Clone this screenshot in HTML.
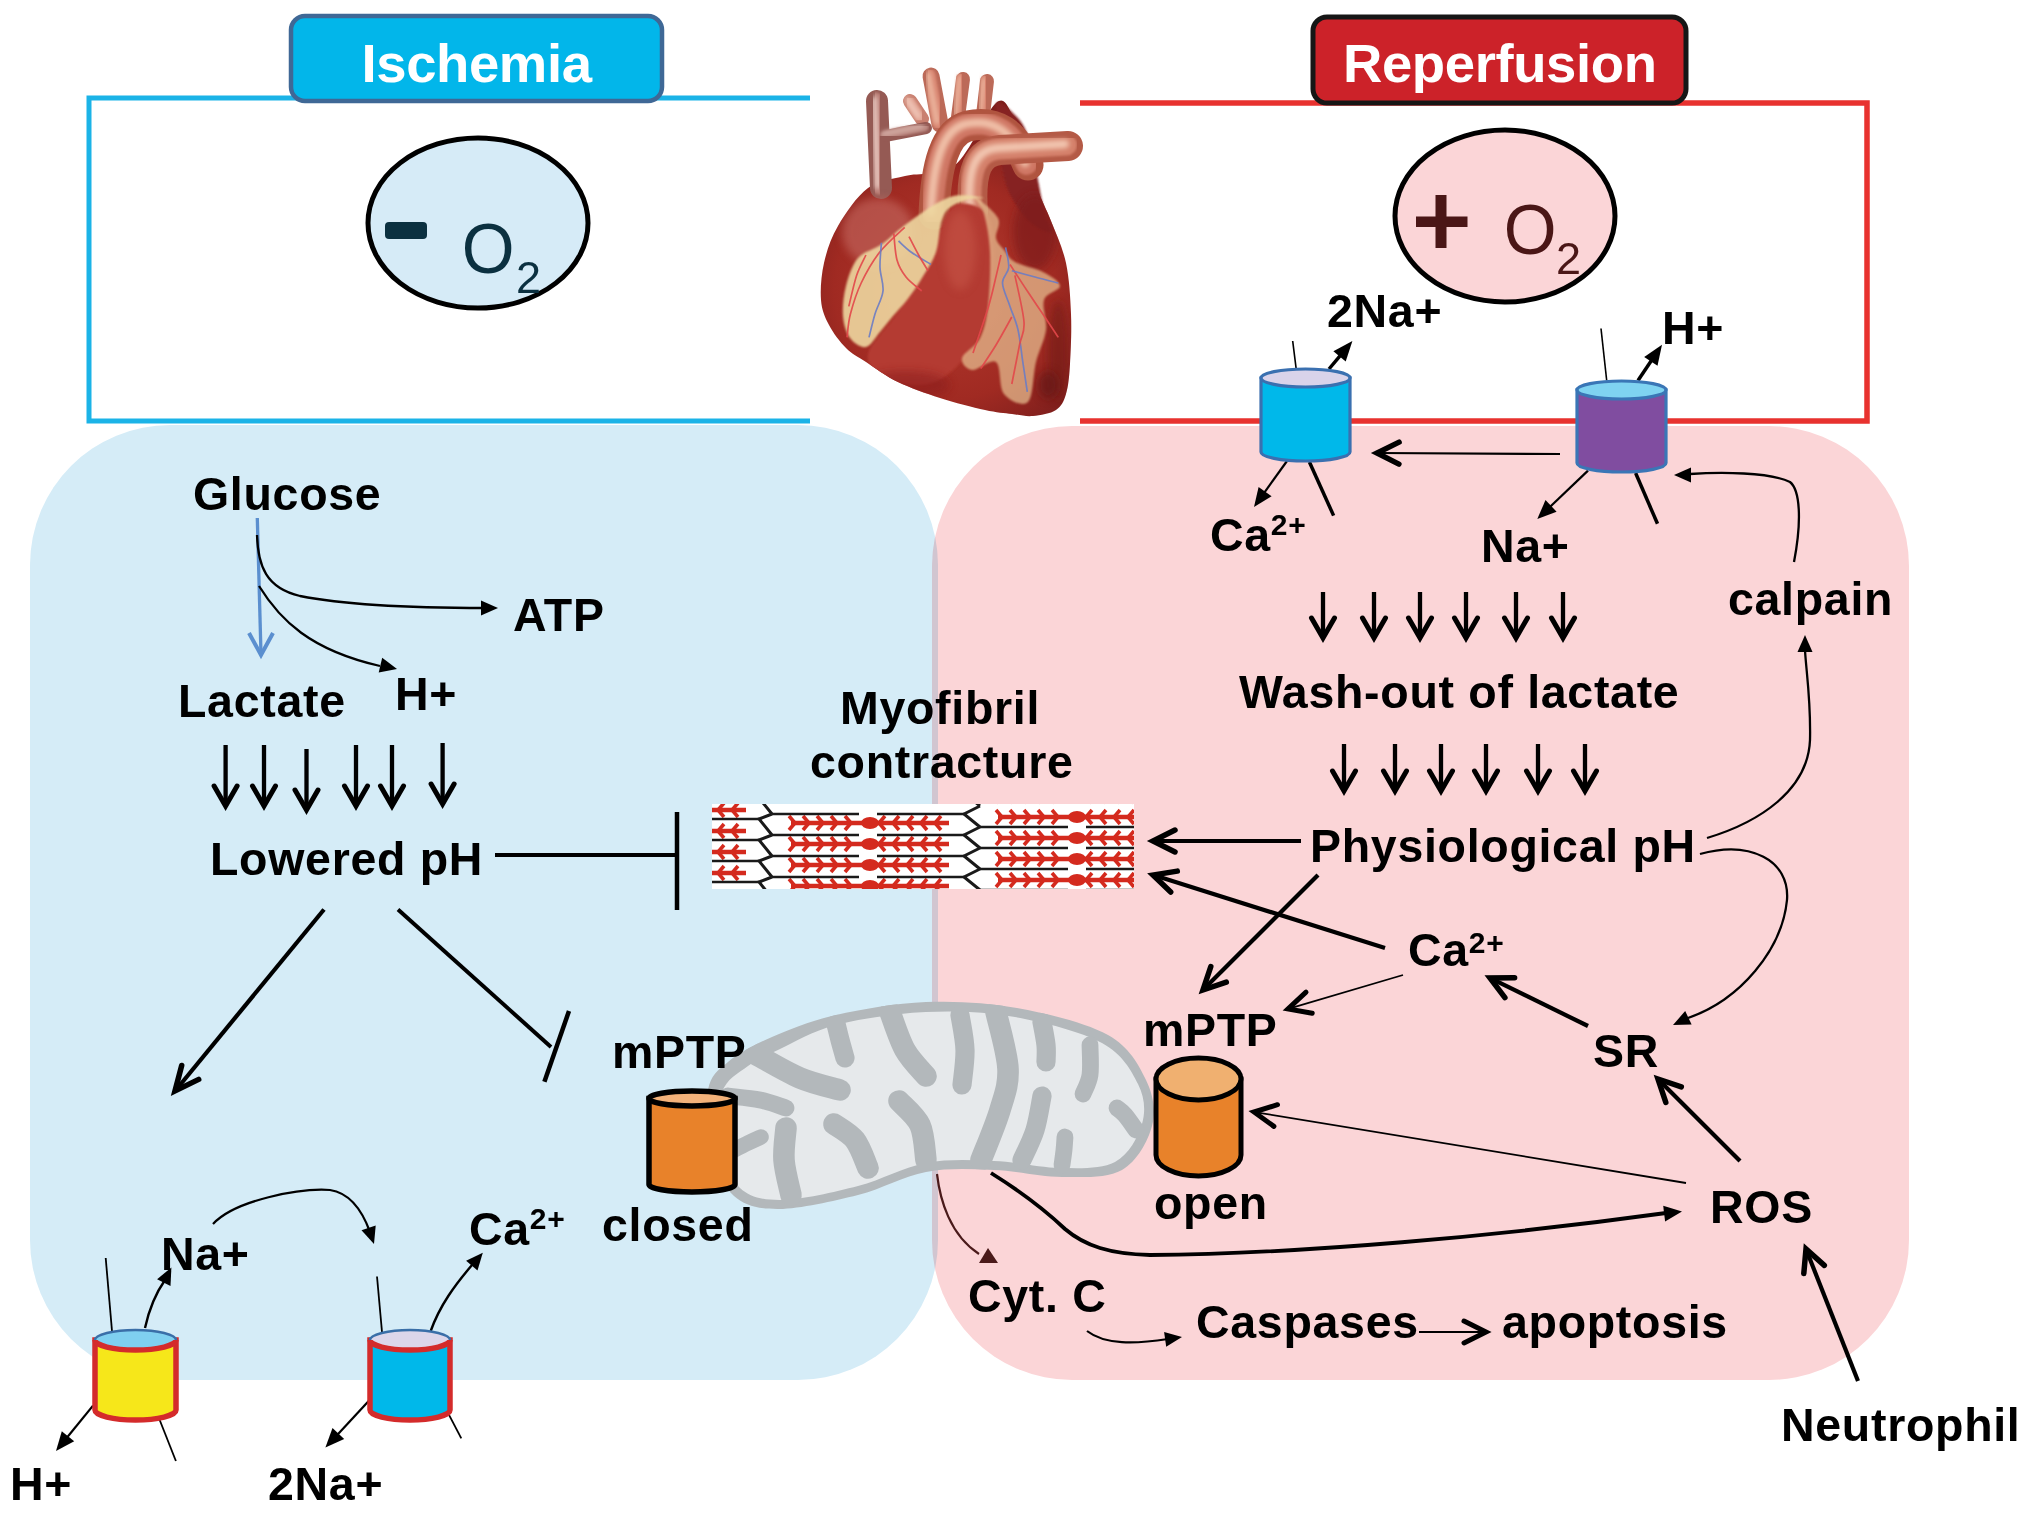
<!DOCTYPE html>
<html><head><meta charset="utf-8">
<style>
html,body{margin:0;padding:0;background:#fff;width:2031px;height:1514px;overflow:hidden}
svg{display:block}
text{font-family:"Liberation Sans",sans-serif;font-weight:bold;font-size:46.5px;fill:#000;letter-spacing:0.7px}
</style></head><body>
<svg width="2031" height="1514" viewBox="0 0 2031 1514">

<rect x="30" y="425" width="908" height="955" rx="140" ry="140" fill="#d5ecf7"/>
<rect x="932" y="426" width="977" height="954" rx="140" ry="140" fill="#fbd5d7" style="mix-blend-mode:multiply"/>
<path d="M810,98 H89 V421 H810" fill="none" stroke="#1bb3e7" stroke-width="5"/>
<path d="M1080,103 H1867 V421 H1080" fill="none" stroke="#e8322f" stroke-width="5.5"/>
<rect x="291" y="16" width="371" height="85" rx="14" fill="#02b6ea" stroke="#3f6896" stroke-width="4.5"/>
<text x="361.5" y="82" style="font-size:54.5px;fill:#fff;letter-spacing:-0.4px">Ischemia</text>
<rect x="1313" y="17" width="373" height="86" rx="14" fill="#cc2229" stroke="#161616" stroke-width="5"/>
<text x="1343" y="82" style="font-size:54.5px;fill:#fff;letter-spacing:-0.4px">Reperfusion</text>
<ellipse cx="478" cy="223" rx="110" ry="85" fill="#d6ebf7" stroke="#000" stroke-width="5"/>
<rect x="385" y="222" width="42" height="17" rx="4" fill="#0b3040"/>
<text x="461" y="273" transform="translate(488,0) scale(0.97,1) translate(-488,0)" style="font-weight:normal;font-size:70px;fill:#0b3040;letter-spacing:0">O</text>
<text x="516" y="293" style="font-weight:normal;font-size:45px;fill:#0b3040;letter-spacing:0">2</text>
<ellipse cx="1505" cy="216" rx="110" ry="86" fill="#fbd5d7" stroke="#000" stroke-width="5"/>
<rect x="1435.5" y="195" width="11" height="53" fill="#4a1616"/>
<rect x="1416" y="216.5" width="51.5" height="10.5" fill="#4a1616"/>
<text x="1503" y="254" transform="translate(1528,0) scale(0.97,1) translate(-1528,0)" style="font-weight:normal;font-size:70px;fill:#4a1616;letter-spacing:0">O</text>
<text x="1556" y="274" style="font-weight:normal;font-size:45px;fill:#4a1616;letter-spacing:0">2</text>
<defs>
<radialGradient id="hb" cx="945" cy="290" r="170" gradientUnits="userSpaceOnUse">
<stop offset="0" stop-color="#b53a2e"/><stop offset="0.65" stop-color="#a02a22"/><stop offset="1" stop-color="#7c1e1c"/></radialGradient>
<filter id="bl2" x="-20%" y="-20%" width="140%" height="140%"><feGaussianBlur stdDeviation="2.5"/></filter>
<filter id="bl1" x="-10%" y="-10%" width="120%" height="120%"><feGaussianBlur stdDeviation="1.2"/></filter>
<filter id="bl3" x="-30%" y="-30%" width="160%" height="160%"><feGaussianBlur stdDeviation="4"/></filter>
</defs>
<path d="M868.0,188.0 C856.8,196.3 845.3,213.5 838.0,226.0 C830.7,238.5 826.8,250.7 824.0,263.0 C821.2,275.3 820.2,289.7 821.0,300.0 C821.8,310.3 824.8,317.0 829.0,325.0 C833.2,333.0 839.8,341.8 846.0,348.0 C852.2,354.2 857.3,356.3 866.0,362.0 C874.7,367.7 885.7,376.0 898.0,382.0 C910.3,388.0 925.5,393.3 940.0,398.0 C954.5,402.7 973.0,407.3 985.0,410.0 C997.0,412.7 1004.0,413.0 1012.0,414.0 C1020.0,415.0 1025.7,416.7 1033.0,416.0 C1040.3,415.3 1050.5,413.7 1056.0,410.0 C1061.5,406.3 1063.7,401.7 1066.0,394.0 C1068.3,386.3 1069.2,377.3 1070.0,364.0 C1070.8,350.7 1071.7,330.8 1071.0,314.0 C1070.3,297.2 1069.3,278.5 1066.0,263.0 C1062.7,247.5 1055.7,233.2 1051.0,221.0 C1046.3,208.8 1041.0,199.7 1038.0,190.0 C1035.0,180.3 1035.0,172.5 1033.0,163.0 C1031.0,153.5 1029.3,141.0 1026.0,133.0 C1022.7,125.0 1018.0,120.0 1013.0,115.0 C1008.0,110.0 1005.7,94.7 996.0,103.0 C986.3,111.3 970.2,152.8 955.0,165.0 C939.8,177.2 919.5,172.2 905.0,176.0 C890.5,179.8 879.2,179.7 868.0,188.0 Z" fill="url(#hb)"/>
<clipPath id="hc"><path d="M868.0,188.0 C856.8,196.3 845.3,213.5 838.0,226.0 C830.7,238.5 826.8,250.7 824.0,263.0 C821.2,275.3 820.2,289.7 821.0,300.0 C821.8,310.3 824.8,317.0 829.0,325.0 C833.2,333.0 839.8,341.8 846.0,348.0 C852.2,354.2 857.3,356.3 866.0,362.0 C874.7,367.7 885.7,376.0 898.0,382.0 C910.3,388.0 925.5,393.3 940.0,398.0 C954.5,402.7 973.0,407.3 985.0,410.0 C997.0,412.7 1004.0,413.0 1012.0,414.0 C1020.0,415.0 1025.7,416.7 1033.0,416.0 C1040.3,415.3 1050.5,413.7 1056.0,410.0 C1061.5,406.3 1063.7,401.7 1066.0,394.0 C1068.3,386.3 1069.2,377.3 1070.0,364.0 C1070.8,350.7 1071.7,330.8 1071.0,314.0 C1070.3,297.2 1069.3,278.5 1066.0,263.0 C1062.7,247.5 1055.7,233.2 1051.0,221.0 C1046.3,208.8 1041.0,199.7 1038.0,190.0 C1035.0,180.3 1035.0,172.5 1033.0,163.0 C1031.0,153.5 1029.3,141.0 1026.0,133.0 C1022.7,125.0 1018.0,120.0 1013.0,115.0 C1008.0,110.0 1005.7,94.7 996.0,103.0 C986.3,111.3 970.2,152.8 955.0,165.0 C939.8,177.2 919.5,172.2 905.0,176.0 C890.5,179.8 879.2,179.7 868.0,188.0 Z"/></clipPath>
<path d="M996.0,104.0 C998.7,98.3 1010.7,110.7 1016.0,116.0 C1021.3,121.3 1024.7,127.0 1028.0,136.0 C1031.3,145.0 1033.2,156.8 1036.0,170.0 C1038.8,183.2 1042.3,204.7 1045.0,215.0 C1047.7,225.3 1054.5,230.8 1052.0,232.0 C1049.5,233.2 1037.3,229.0 1030.0,222.0 C1022.7,215.0 1013.0,202.0 1008.0,190.0 C1003.0,178.0 1002.0,164.3 1000.0,150.0 C998.0,135.7 993.3,109.7 996.0,104.0 Z" fill="#862220" filter="url(#bl1)"/>
<path d="M910,101 L922,119" fill="none" stroke="#c98070" stroke-width="14" stroke-linecap="round"/>
<path d="M910,101 L922,119" fill="none" stroke="#e0a090" stroke-width="9.8" stroke-linecap="round" transform="translate(-1.5,-1)" filter="url(#bl1)"/>
<path d="M910,101 L922,119" fill="none" stroke="#f6d6c8" stroke-width="3.9" stroke-linecap="round" transform="translate(-3,-2)" filter="url(#bl2)"/>
<path d="M931,76 L940,124" fill="none" stroke="#bc6a58" stroke-width="17" stroke-linecap="round"/>
<path d="M931,76 L940,124" fill="none" stroke="#d88470" stroke-width="11.9" stroke-linecap="round" transform="translate(-1.5,-1)" filter="url(#bl1)"/>
<path d="M931,76 L940,124" fill="none" stroke="#f0c0a8" stroke-width="4.8" stroke-linecap="round" transform="translate(-3,-2)" filter="url(#bl2)"/>
<path d="M963,79 L958,117" fill="none" stroke="#bc6a58" stroke-width="14" stroke-linecap="round"/>
<path d="M963,79 L958,117" fill="none" stroke="#d88470" stroke-width="9.8" stroke-linecap="round" transform="translate(-1.5,-1)" filter="url(#bl1)"/>
<path d="M963,79 L958,117" fill="none" stroke="#f0c0a8" stroke-width="3.9" stroke-linecap="round" transform="translate(-3,-2)" filter="url(#bl2)"/>
<path d="M987,81 L983,115" fill="none" stroke="#bc6a58" stroke-width="14" stroke-linecap="round"/>
<path d="M987,81 L983,115" fill="none" stroke="#d88470" stroke-width="9.8" stroke-linecap="round" transform="translate(-1.5,-1)" filter="url(#bl1)"/>
<path d="M987,81 L983,115" fill="none" stroke="#f0c0a8" stroke-width="3.9" stroke-linecap="round" transform="translate(-3,-2)" filter="url(#bl2)"/>
<path d="M877,101 L881,188" fill="none" stroke="#955a54" stroke-width="22" stroke-linecap="round"/>
<path d="M877,101 L881,188" fill="none" stroke="#b87c74" stroke-width="15.4" stroke-linecap="round" transform="translate(-1.5,-1)" filter="url(#bl1)"/>
<path d="M877,101 L881,188" fill="none" stroke="#e8c8c0" stroke-width="6.2" stroke-linecap="round" transform="translate(-3,-2)" filter="url(#bl2)"/>
<path d="M886,136 Q905,132 926,128" fill="none" stroke="#955a54" stroke-width="12" stroke-linecap="round"/>
<path d="M886,136 Q905,132 926,128" fill="none" stroke="#b8827a" stroke-width="8.4" stroke-linecap="round" transform="translate(-1.5,-1)" filter="url(#bl1)"/>
<path d="M886,136 Q905,132 926,128" fill="none" stroke="#e0c0b8" stroke-width="3.4" stroke-linecap="round" transform="translate(-3,-2)" filter="url(#bl2)"/>
<path d="M934,214 C936,165 945,132 968,126 C995,120 1015,132 1028,165" fill="none" stroke="#b0543f" stroke-width="31" stroke-linecap="round"/>
<path d="M934,214 C936,165 945,132 968,126 C995,120 1015,132 1028,165" fill="none" stroke="#cf7664" stroke-width="21.7" stroke-linecap="round" transform="translate(-1.5,-1)" filter="url(#bl1)"/>
<path d="M934,214 C936,165 945,132 968,126 C995,120 1015,132 1028,165" fill="none" stroke="#f0c0a8" stroke-width="8.7" stroke-linecap="round" transform="translate(-3,-2)" filter="url(#bl2)"/>
<path d="M973,212 C970,170 978,152 1000,150 L1068,146" fill="none" stroke="#b45a46" stroke-width="30" stroke-linecap="round"/>
<path d="M973,212 C970,170 978,152 1000,150 L1068,146" fill="none" stroke="#d4806a" stroke-width="21.0" stroke-linecap="round" transform="translate(-1.5,-1)" filter="url(#bl1)"/>
<path d="M973,212 C970,170 978,152 1000,150 L1068,146" fill="none" stroke="#f2c6b0" stroke-width="8.4" stroke-linecap="round" transform="translate(-3,-2)" filter="url(#bl2)"/>
<g clip-path="url(#hc)">
<ellipse cx="1035" cy="232" rx="22" ry="38" fill="#7e1e1c" opacity="0.7" filter="url(#bl3)"/>
<ellipse cx="1058" cy="350" rx="10" ry="50" fill="#741a18" opacity="0.6" filter="url(#bl3)"/>
<ellipse cx="878" cy="232" rx="36" ry="34" fill="#c46a62" opacity="0.6" filter="url(#bl3)"/>
<path d="M948.0,212.0 C955.0,201.3 961.3,203.3 968.0,204.0 C974.7,204.7 983.7,208.7 988.0,216.0 C992.3,223.3 993.7,234.0 994.0,248.0 C994.3,262.0 993.7,283.3 990.0,300.0 C986.3,316.7 981.2,334.3 972.0,348.0 C962.8,361.7 948.7,376.7 935.0,382.0 C921.3,387.3 901.2,384.5 890.0,380.0 C878.8,375.5 866.7,366.3 868.0,355.0 C869.3,343.7 888.3,326.5 898.0,312.0 C907.7,297.5 917.7,284.7 926.0,268.0 C934.3,251.3 941.0,222.7 948.0,212.0 Z" fill="#b43a30" filter="url(#bl1)"/>
<ellipse cx="960" cy="250" rx="16" ry="40" fill="#c95a4c" opacity="0.5" filter="url(#bl3)"/>
<ellipse cx="905" cy="385" rx="45" ry="14" fill="#8a1c1a" opacity="0.55" filter="url(#bl3)"/>
<ellipse cx="1048" cy="385" rx="10" ry="14" fill="#5e1412" opacity="0.6" filter="url(#bl3)"/>
<path d="M909.0,222.0 C897.7,229.8 890.5,238.0 882.0,244.0 C873.5,250.0 864.0,251.0 858.0,258.0 C852.0,265.0 848.5,276.3 846.0,286.0 C843.5,295.7 842.3,307.3 843.0,316.0 C843.7,324.7 846.2,332.8 850.0,338.0 C853.8,343.2 861.0,348.0 866.0,347.0 C871.0,346.0 875.5,337.2 880.0,332.0 C884.5,326.8 888.5,321.3 893.0,316.0 C897.5,310.7 902.2,306.3 907.0,300.0 C911.8,293.7 917.2,286.0 922.0,278.0 C926.8,270.0 932.3,262.7 936.0,252.0 C939.7,241.3 939.0,222.7 944.0,214.0 C949.0,205.3 959.3,202.7 966.0,200.0 C972.7,197.3 986.7,198.5 984.0,198.0 C981.3,197.5 962.5,193.0 950.0,197.0 C937.5,201.0 920.3,214.2 909.0,222.0 Z" fill="#eed8a0" opacity="0.9" filter="url(#bl1)"/>
<path d="M975.0,197.0 C977.3,197.7 994.5,211.2 998.0,218.0 C1001.5,224.8 995.0,232.7 996.0,238.0 C997.0,243.3 1000.8,246.0 1004.0,250.0 C1007.2,254.0 1008.5,258.3 1015.0,262.0 C1021.5,265.7 1035.5,268.0 1043.0,272.0 C1050.5,276.0 1059.8,281.3 1060.0,286.0 C1060.2,290.7 1046.3,292.7 1044.0,300.0 C1041.7,307.3 1047.3,319.7 1046.0,330.0 C1044.7,340.3 1039.0,350.0 1036.0,362.0 C1033.0,374.0 1033.3,396.7 1028.0,402.0 C1022.7,407.3 1009.3,400.7 1004.0,394.0 C998.7,387.3 1001.3,366.0 996.0,362.0 C990.7,358.0 977.7,370.7 972.0,370.0 C966.3,369.3 960.7,363.3 962.0,358.0 C963.3,352.7 975.7,346.7 980.0,338.0 C984.3,329.3 986.3,320.3 988.0,306.0 C989.7,291.7 990.7,267.3 990.0,252.0 C989.3,236.7 986.5,223.2 984.0,214.0 C981.5,204.8 972.7,196.3 975.0,197.0 Z" fill="#e9c494" opacity="0.7" filter="url(#bl1)"/>
<path d="M904.7,227.3 C900.6,231.4 887.0,242.7 879.8,252.0 C872.5,261.3 866.1,272.7 861.2,283.0 C856.3,293.3 852.8,304.9 850.4,314.0 C848.0,323.1 847.6,333.5 847.0,337.4 " fill="none" stroke="#e2474a" stroke-width="1.7" opacity="0.9"/>
<path d="M881.4,242.8 C881.2,246.9 879.7,259.6 880.0,267.6 C880.3,275.6 883.8,283.3 883.0,291.0 C882.2,298.7 877.3,306.3 875.0,314.0 C872.7,321.7 870.0,333.5 869.0,337.4 " fill="none" stroke="#6c7cc4" stroke-width="1.7" opacity="0.9"/>
<path d="M893.8,233.5 C894.3,237.9 895.0,252.8 897.0,260.0 C899.0,267.2 901.9,271.8 906.0,277.0 C910.1,282.2 919.1,288.7 921.7,291.0 " fill="none" stroke="#e2474a" stroke-width="1.7" opacity="0.9"/>
<path d="M898.5,241.0 C900.6,242.8 905.6,248.1 911.0,252.0 C916.4,255.9 927.7,262.4 931.0,264.5 " fill="none" stroke="#6c7cc4" stroke-width="1.7" opacity="0.9"/>
<path d="M909.0,236.6 C910.6,239.7 915.4,249.3 918.6,255.0 C921.8,260.7 926.4,268.1 928.0,270.7 " fill="none" stroke="#e2474a" stroke-width="1.7" opacity="0.9"/>
<path d="M865.9,255.0 C864.4,258.4 859.5,266.8 856.6,275.4 C853.8,284.0 850.1,301.2 848.8,306.4 " fill="none" stroke="#e2474a" stroke-width="1.7" opacity="0.9"/>
<path d="M1005.6,247.4 C1006.1,250.8 1009.2,261.7 1008.7,267.6 C1008.2,273.5 1002.3,276.5 1002.5,283.0 C1002.7,289.5 1007.4,298.6 1010.0,306.4 C1012.6,314.2 1015.9,320.6 1018.0,329.7 C1020.1,338.8 1021.1,350.3 1022.6,360.7 C1024.2,371.1 1026.5,386.6 1027.3,391.8 " fill="none" stroke="#6c7cc4" stroke-width="1.7" opacity="0.9"/>
<path d="M1001.0,255.0 C1000.2,258.4 998.4,266.8 996.3,275.4 C994.2,284.0 992.4,293.5 988.5,306.4 C984.6,319.3 975.6,345.2 973.0,353.0 " fill="none" stroke="#e2474a" stroke-width="1.7" opacity="0.9"/>
<path d="M1010.0,264.5 C1012.9,268.9 1021.8,282.8 1027.3,291.0 C1032.8,299.2 1037.6,306.3 1042.8,314.0 C1048.0,321.7 1055.7,333.5 1058.3,337.4 " fill="none" stroke="#e2474a" stroke-width="1.7" opacity="0.9"/>
<path d="M1011.8,270.7 C1015.7,271.8 1027.2,274.9 1035.0,277.0 C1042.8,279.1 1054.4,282.0 1058.3,283.0 " fill="none" stroke="#6c7cc4" stroke-width="1.7" opacity="0.9"/>
<path d="M1014.9,275.4 C1016.4,283.2 1023.2,310.4 1024.0,322.0 C1024.8,333.6 1021.5,334.7 1019.5,345.0 C1017.5,355.3 1013.1,377.5 1011.8,384.0 " fill="none" stroke="#e2474a" stroke-width="1.7" opacity="0.9"/>
<path d="M1011.8,317.0 C1009.2,321.7 1001.2,336.4 996.0,345.0 C990.8,353.6 983.2,364.6 980.7,368.5 " fill="none" stroke="#e2474a" stroke-width="1.7" opacity="0.9"/>
</g>
<rect x="712" y="804" width="422" height="85" fill="#fff"/>
<clipPath id="mfc"><rect x="712" y="804" width="422" height="85"/></clipPath><g clip-path="url(#mfc)">
<line x1="700" y1="789" x2="746" y2="789" stroke="#d42a1e" stroke-width="4.6"/>
<path d="M710,782 L704,789 L710,796 M724,782 L718,789 L724,796 M738,782 L732,789 L738,796 " fill="none" stroke="#d42a1e" stroke-width="3.6"/>
<ellipse cx="690" cy="789" rx="9" ry="6" fill="#d42a1e"/>
<line x1="712" y1="798" x2="759" y2="798" stroke="#1a1a1a" stroke-width="2.6"/>
<line x1="772" y1="793" x2="859" y2="793" stroke="#1a1a1a" stroke-width="2.6"/>
<line x1="877" y1="793" x2="964" y2="793" stroke="#1a1a1a" stroke-width="2.6"/>
<line x1="998" y1="796" x2="1160" y2="796" stroke="#d42a1e" stroke-width="4.6"/>
<path d="M996,789 L1002,796 L996,803 M1010,789 L1016,796 L1010,803 M1024,789 L1030,796 L1024,803 M1038,789 L1044,796 L1038,803 M1052,789 L1058,796 L1052,803 M1092,789 L1086,796 L1092,803 M1106,789 L1100,796 L1106,803 M1120,789 L1114,796 L1120,803 M1134,789 L1128,796 L1134,803 M1148,789 L1142,796 L1148,803 M1162,789 L1156,796 L1162,803 " fill="none" stroke="#d42a1e" stroke-width="3.6"/>
<ellipse cx="1077" cy="796" rx="9" ry="6" fill="#d42a1e"/>
<line x1="700" y1="810" x2="746" y2="810" stroke="#d42a1e" stroke-width="4.6"/>
<path d="M710,803 L704,810 L710,817 M724,803 L718,810 L724,817 M738,803 L732,810 L738,817 " fill="none" stroke="#d42a1e" stroke-width="3.6"/>
<ellipse cx="690" cy="810" rx="9" ry="6" fill="#d42a1e"/>
<line x1="712" y1="819" x2="759" y2="819" stroke="#1a1a1a" stroke-width="2.6"/>
<line x1="791" y1="823" x2="949" y2="823" stroke="#d42a1e" stroke-width="4.6"/>
<path d="M789,816 L795,823 L789,830 M803,816 L809,823 L803,830 M817,816 L823,823 L817,830 M831,816 L837,823 L831,830 M845,816 L851,823 L845,830 M885,816 L879,823 L885,830 M899,816 L893,823 L899,830 M913,816 L907,823 L913,830 M927,816 L921,823 L927,830 M941,816 L935,823 L941,830 " fill="none" stroke="#d42a1e" stroke-width="3.6"/>
<ellipse cx="870" cy="823" rx="9" ry="6" fill="#d42a1e"/>
<line x1="772" y1="814" x2="859" y2="814" stroke="#1a1a1a" stroke-width="2.6"/>
<line x1="877" y1="814" x2="964" y2="814" stroke="#1a1a1a" stroke-width="2.6"/>
<line x1="998" y1="817" x2="1160" y2="817" stroke="#d42a1e" stroke-width="4.6"/>
<path d="M996,810 L1002,817 L996,824 M1010,810 L1016,817 L1010,824 M1024,810 L1030,817 L1024,824 M1038,810 L1044,817 L1038,824 M1052,810 L1058,817 L1052,824 M1092,810 L1086,817 L1092,824 M1106,810 L1100,817 L1106,824 M1120,810 L1114,817 L1120,824 M1134,810 L1128,817 L1134,824 M1148,810 L1142,817 L1148,824 M1162,810 L1156,817 L1162,824 " fill="none" stroke="#d42a1e" stroke-width="3.6"/>
<ellipse cx="1077" cy="817" rx="9" ry="6" fill="#d42a1e"/>
<line x1="980" y1="827" x2="1068" y2="827" stroke="#1a1a1a" stroke-width="2.6"/>
<line x1="1086" y1="827" x2="1134" y2="827" stroke="#1a1a1a" stroke-width="2.6"/>
<line x1="700" y1="831" x2="746" y2="831" stroke="#d42a1e" stroke-width="4.6"/>
<path d="M710,824 L704,831 L710,838 M724,824 L718,831 L724,838 M738,824 L732,831 L738,838 " fill="none" stroke="#d42a1e" stroke-width="3.6"/>
<ellipse cx="690" cy="831" rx="9" ry="6" fill="#d42a1e"/>
<line x1="712" y1="840" x2="759" y2="840" stroke="#1a1a1a" stroke-width="2.6"/>
<line x1="791" y1="844" x2="949" y2="844" stroke="#d42a1e" stroke-width="4.6"/>
<path d="M789,837 L795,844 L789,851 M803,837 L809,844 L803,851 M817,837 L823,844 L817,851 M831,837 L837,844 L831,851 M845,837 L851,844 L845,851 M885,837 L879,844 L885,851 M899,837 L893,844 L899,851 M913,837 L907,844 L913,851 M927,837 L921,844 L927,851 M941,837 L935,844 L941,851 " fill="none" stroke="#d42a1e" stroke-width="3.6"/>
<ellipse cx="870" cy="844" rx="9" ry="6" fill="#d42a1e"/>
<line x1="772" y1="835" x2="859" y2="835" stroke="#1a1a1a" stroke-width="2.6"/>
<line x1="877" y1="835" x2="964" y2="835" stroke="#1a1a1a" stroke-width="2.6"/>
<line x1="998" y1="838" x2="1160" y2="838" stroke="#d42a1e" stroke-width="4.6"/>
<path d="M996,831 L1002,838 L996,845 M1010,831 L1016,838 L1010,845 M1024,831 L1030,838 L1024,845 M1038,831 L1044,838 L1038,845 M1052,831 L1058,838 L1052,845 M1092,831 L1086,838 L1092,845 M1106,831 L1100,838 L1106,845 M1120,831 L1114,838 L1120,845 M1134,831 L1128,838 L1134,845 M1148,831 L1142,838 L1148,845 M1162,831 L1156,838 L1162,845 " fill="none" stroke="#d42a1e" stroke-width="3.6"/>
<ellipse cx="1077" cy="838" rx="9" ry="6" fill="#d42a1e"/>
<line x1="980" y1="848" x2="1068" y2="848" stroke="#1a1a1a" stroke-width="2.6"/>
<line x1="1086" y1="848" x2="1134" y2="848" stroke="#1a1a1a" stroke-width="2.6"/>
<line x1="700" y1="852" x2="746" y2="852" stroke="#d42a1e" stroke-width="4.6"/>
<path d="M710,845 L704,852 L710,859 M724,845 L718,852 L724,859 M738,845 L732,852 L738,859 " fill="none" stroke="#d42a1e" stroke-width="3.6"/>
<ellipse cx="690" cy="852" rx="9" ry="6" fill="#d42a1e"/>
<line x1="712" y1="861" x2="759" y2="861" stroke="#1a1a1a" stroke-width="2.6"/>
<line x1="791" y1="865" x2="949" y2="865" stroke="#d42a1e" stroke-width="4.6"/>
<path d="M789,858 L795,865 L789,872 M803,858 L809,865 L803,872 M817,858 L823,865 L817,872 M831,858 L837,865 L831,872 M845,858 L851,865 L845,872 M885,858 L879,865 L885,872 M899,858 L893,865 L899,872 M913,858 L907,865 L913,872 M927,858 L921,865 L927,872 M941,858 L935,865 L941,872 " fill="none" stroke="#d42a1e" stroke-width="3.6"/>
<ellipse cx="870" cy="865" rx="9" ry="6" fill="#d42a1e"/>
<line x1="772" y1="856" x2="859" y2="856" stroke="#1a1a1a" stroke-width="2.6"/>
<line x1="877" y1="856" x2="964" y2="856" stroke="#1a1a1a" stroke-width="2.6"/>
<line x1="998" y1="859" x2="1160" y2="859" stroke="#d42a1e" stroke-width="4.6"/>
<path d="M996,852 L1002,859 L996,866 M1010,852 L1016,859 L1010,866 M1024,852 L1030,859 L1024,866 M1038,852 L1044,859 L1038,866 M1052,852 L1058,859 L1052,866 M1092,852 L1086,859 L1092,866 M1106,852 L1100,859 L1106,866 M1120,852 L1114,859 L1120,866 M1134,852 L1128,859 L1134,866 M1148,852 L1142,859 L1148,866 M1162,852 L1156,859 L1162,866 " fill="none" stroke="#d42a1e" stroke-width="3.6"/>
<ellipse cx="1077" cy="859" rx="9" ry="6" fill="#d42a1e"/>
<line x1="980" y1="869" x2="1068" y2="869" stroke="#1a1a1a" stroke-width="2.6"/>
<line x1="1086" y1="869" x2="1134" y2="869" stroke="#1a1a1a" stroke-width="2.6"/>
<line x1="700" y1="873" x2="746" y2="873" stroke="#d42a1e" stroke-width="4.6"/>
<path d="M710,866 L704,873 L710,880 M724,866 L718,873 L724,880 M738,866 L732,873 L738,880 " fill="none" stroke="#d42a1e" stroke-width="3.6"/>
<ellipse cx="690" cy="873" rx="9" ry="6" fill="#d42a1e"/>
<line x1="712" y1="882" x2="759" y2="882" stroke="#1a1a1a" stroke-width="2.6"/>
<line x1="791" y1="886" x2="949" y2="886" stroke="#d42a1e" stroke-width="4.6"/>
<path d="M789,879 L795,886 L789,893 M803,879 L809,886 L803,893 M817,879 L823,886 L817,893 M831,879 L837,886 L831,893 M845,879 L851,886 L845,893 M885,879 L879,886 L885,893 M899,879 L893,886 L899,893 M913,879 L907,886 L913,893 M927,879 L921,886 L927,893 M941,879 L935,886 L941,893 " fill="none" stroke="#d42a1e" stroke-width="3.6"/>
<ellipse cx="870" cy="886" rx="9" ry="6" fill="#d42a1e"/>
<line x1="772" y1="877" x2="859" y2="877" stroke="#1a1a1a" stroke-width="2.6"/>
<line x1="877" y1="877" x2="964" y2="877" stroke="#1a1a1a" stroke-width="2.6"/>
<line x1="998" y1="880" x2="1160" y2="880" stroke="#d42a1e" stroke-width="4.6"/>
<path d="M996,873 L1002,880 L996,887 M1010,873 L1016,880 L1010,887 M1024,873 L1030,880 L1024,887 M1038,873 L1044,880 L1038,887 M1052,873 L1058,880 L1052,887 M1092,873 L1086,880 L1092,887 M1106,873 L1100,880 L1106,887 M1120,873 L1114,880 L1120,887 M1134,873 L1128,880 L1134,887 M1148,873 L1142,880 L1148,887 M1162,873 L1156,880 L1162,887 " fill="none" stroke="#d42a1e" stroke-width="3.6"/>
<ellipse cx="1077" cy="880" rx="9" ry="6" fill="#d42a1e"/>
<line x1="980" y1="890" x2="1068" y2="890" stroke="#1a1a1a" stroke-width="2.6"/>
<line x1="1086" y1="890" x2="1134" y2="890" stroke="#1a1a1a" stroke-width="2.6"/>
<path d="M772,793 L759,798 L772,814 M772,814 L759,819 L772,835 M772,835 L759,840 L772,856 M772,856 L759,861 L772,877 M772,877 L759,882 L772,898 M772,898 L759,903 L772,919 " fill="none" stroke="#1a1a1a" stroke-width="3"/>
<path d="M980,785 L964,793 L980,806 M980,806 L964,814 L980,827 M980,827 L964,835 L980,848 M980,848 L964,856 L980,869 M980,869 L964,877 L980,890 M980,890 L964,898 L980,911 " fill="none" stroke="#1a1a1a" stroke-width="3"/>
</g>
<path d="M708.0,1090.0 C710.7,1075.3 717.3,1070.8 728.0,1062.0 C738.7,1053.2 754.0,1044.8 772.0,1037.0 C790.0,1029.2 810.3,1020.8 836.0,1015.0 C861.7,1009.2 895.8,1003.2 926.0,1002.0 C956.2,1000.8 986.7,1002.5 1017.0,1008.0 C1047.3,1013.5 1086.5,1023.0 1108.0,1035.0 C1129.5,1047.0 1138.7,1064.8 1146.0,1080.0 C1153.3,1095.2 1156.0,1111.0 1152.0,1126.0 C1148.0,1141.0 1137.0,1161.5 1122.0,1170.0 C1107.0,1178.5 1083.3,1177.0 1062.0,1177.0 C1040.7,1177.0 1016.7,1170.8 994.0,1170.0 C971.3,1169.2 948.7,1167.8 926.0,1172.0 C903.3,1176.2 882.5,1188.8 858.0,1195.0 C833.5,1201.2 799.7,1208.8 779.0,1209.0 C758.3,1209.2 745.2,1205.8 734.0,1196.0 C722.8,1186.2 716.3,1167.7 712.0,1150.0 C707.7,1132.3 705.3,1104.7 708.0,1090.0 Z" fill="#b3b8bb"/>
<clipPath id="mc"><path d="M708.0,1090.0 C710.7,1075.3 717.3,1070.8 728.0,1062.0 C738.7,1053.2 754.0,1044.8 772.0,1037.0 C790.0,1029.2 810.3,1020.8 836.0,1015.0 C861.7,1009.2 895.8,1003.2 926.0,1002.0 C956.2,1000.8 986.7,1002.5 1017.0,1008.0 C1047.3,1013.5 1086.5,1023.0 1108.0,1035.0 C1129.5,1047.0 1138.7,1064.8 1146.0,1080.0 C1153.3,1095.2 1156.0,1111.0 1152.0,1126.0 C1148.0,1141.0 1137.0,1161.5 1122.0,1170.0 C1107.0,1178.5 1083.3,1177.0 1062.0,1177.0 C1040.7,1177.0 1016.7,1170.8 994.0,1170.0 C971.3,1169.2 948.7,1167.8 926.0,1172.0 C903.3,1176.2 882.5,1188.8 858.0,1195.0 C833.5,1201.2 799.7,1208.8 779.0,1209.0 C758.3,1209.2 745.2,1205.8 734.0,1196.0 C722.8,1186.2 716.3,1167.7 712.0,1150.0 C707.7,1132.3 705.3,1104.7 708.0,1090.0 Z"/></clipPath><g clip-path="url(#mc)">
<path d="M722.0,1092.0 C726.7,1078.8 738.3,1073.2 748.0,1066.0 C757.7,1058.8 765.3,1055.8 780.0,1049.0 C794.7,1042.2 811.7,1031.2 836.0,1025.0 C860.3,1018.8 896.2,1013.3 926.0,1012.0 C955.8,1010.7 985.7,1011.8 1015.0,1017.0 C1044.3,1022.2 1081.5,1031.8 1102.0,1043.0 C1122.5,1054.2 1131.3,1070.5 1138.0,1084.0 C1144.7,1097.5 1145.8,1111.0 1142.0,1124.0 C1138.2,1137.0 1128.7,1154.7 1115.0,1162.0 C1101.3,1169.3 1080.2,1168.2 1060.0,1168.0 C1039.8,1167.8 1016.3,1161.8 994.0,1161.0 C971.7,1160.2 948.7,1158.8 926.0,1163.0 C903.3,1167.2 882.0,1179.8 858.0,1186.0 C834.0,1192.2 801.7,1199.7 782.0,1200.0 C762.3,1200.3 750.3,1197.2 740.0,1188.0 C729.7,1178.8 723.0,1161.0 720.0,1145.0 C717.0,1129.0 717.3,1105.2 722.0,1092.0 Z" fill="#e6e9eb"/>
<path d="M755.0,1054.0 C762.5,1058.0 785.8,1072.0 800.0,1078.0 C814.2,1084.0 833.3,1088.0 840.0,1090.0 " fill="none" stroke="#b3b8bb" stroke-width="21.6" stroke-linecap="round"/>
<path d="M728.0,1096.0 C733.3,1096.7 750.3,1098.0 760.0,1100.0 C769.7,1102.0 781.7,1106.7 786.0,1108.0 " fill="none" stroke="#b3b8bb" stroke-width="16.8" stroke-linecap="round"/>
<path d="M730.0,1152.0 C733.0,1150.5 742.8,1145.5 748.0,1143.0 C753.2,1140.5 758.8,1138.0 761.0,1137.0 " fill="none" stroke="#b3b8bb" stroke-width="15.6" stroke-linecap="round"/>
<path d="M791.0,1195.0 C789.8,1189.2 784.8,1171.2 784.0,1160.0 C783.2,1148.8 785.7,1133.3 786.0,1128.0 " fill="none" stroke="#b3b8bb" stroke-width="21.6" stroke-linecap="round"/>
<path d="M836.0,1024.0 C836.7,1026.7 838.5,1034.3 840.0,1040.0 C841.5,1045.7 844.2,1055.0 845.0,1058.0 " fill="none" stroke="#b3b8bb" stroke-width="19.2" stroke-linecap="round"/>
<path d="M868.0,1168.0 C865.8,1163.3 860.7,1147.3 855.0,1140.0 C849.3,1132.7 837.5,1126.7 834.0,1124.0 " fill="none" stroke="#b3b8bb" stroke-width="21.6" stroke-linecap="round"/>
<path d="M890.0,1012.0 C892.5,1018.3 899.0,1039.3 905.0,1050.0 C911.0,1060.7 922.5,1071.7 926.0,1076.0 " fill="none" stroke="#b3b8bb" stroke-width="21.6" stroke-linecap="round"/>
<path d="M926.0,1160.0 C925.0,1154.2 924.5,1134.8 920.0,1125.0 C915.5,1115.2 902.5,1105.0 899.0,1101.0 " fill="none" stroke="#b3b8bb" stroke-width="21.6" stroke-linecap="round"/>
<path d="M960.0,1015.0 C960.8,1020.8 964.7,1038.3 965.0,1050.0 C965.3,1061.7 962.5,1079.2 962.0,1085.0 " fill="none" stroke="#b3b8bb" stroke-width="19.2" stroke-linecap="round"/>
<path d="M981.0,1160.0 C984.2,1151.7 995.5,1125.2 1000.0,1110.0 C1004.5,1094.8 1008.7,1085.3 1008.0,1069.0 C1007.3,1052.7 998.0,1021.5 996.0,1012.0 " fill="none" stroke="#b3b8bb" stroke-width="21.6" stroke-linecap="round"/>
<path d="M1022.0,1160.0 C1024.2,1155.0 1031.7,1140.7 1035.0,1130.0 C1038.3,1119.3 1040.8,1101.7 1042.0,1096.0 " fill="none" stroke="#b3b8bb" stroke-width="19.2" stroke-linecap="round"/>
<path d="M1042.0,1022.0 C1042.7,1025.8 1045.3,1038.3 1046.0,1045.0 C1046.7,1051.7 1046.0,1059.2 1046.0,1062.0 " fill="none" stroke="#b3b8bb" stroke-width="19.2" stroke-linecap="round"/>
<path d="M1062.0,1165.0 C1062.3,1162.5 1063.5,1154.7 1064.0,1150.0 C1064.5,1145.3 1064.8,1139.2 1065.0,1137.0 " fill="none" stroke="#b3b8bb" stroke-width="16.8" stroke-linecap="round"/>
<path d="M1090.0,1045.0 C1090.0,1050.0 1091.2,1066.8 1090.0,1075.0 C1088.8,1083.2 1084.2,1090.8 1083.0,1094.0 " fill="none" stroke="#b3b8bb" stroke-width="16.8" stroke-linecap="round"/>
<path d="M1136.0,1130.0 C1134.2,1127.5 1128.2,1118.7 1125.0,1115.0 C1121.8,1111.3 1118.3,1109.2 1117.0,1108.0 " fill="none" stroke="#b3b8bb" stroke-width="16.8" stroke-linecap="round"/>
</g>
<line x1="257.3" y1="518.0" x2="261.0" y2="654.0" stroke="#5b8fcf" stroke-width="3.3" stroke-linecap="butt"/>
<path d="M249,633 L261,655 L273,633" fill="none" stroke="#5b8fcf" stroke-width="4" stroke-linejoin="miter"/>
<path d="M257,535 C258,566 266,588 300,596 C345,605 420,608 485,608" fill="none" stroke="#000" stroke-width="2.3" stroke-linecap="butt"/>
<path d="M481.0,615.5 L498.0,608.0 L481.0,600.5 Z" fill="#000"/>
<path d="M259,586 C280,620 310,650 380,666" fill="none" stroke="#000" stroke-width="2.3" stroke-linecap="butt"/>
<path d="M378.7,672.4 L397.0,669.0 L382.2,657.8 Z" fill="#000"/>
<line x1="225.6" y1="745.0" x2="225.6" y2="804.0" stroke="#000" stroke-width="4.3" stroke-linecap="butt"/>
<path d="M214.1,786 L225.6,806 L237.1,786" fill="none" stroke="#000" stroke-width="5" stroke-linejoin="miter" stroke-linecap="round"/>
<line x1="264.0" y1="745.0" x2="264.0" y2="804.0" stroke="#000" stroke-width="4.3" stroke-linecap="butt"/>
<path d="M252.5,786 L264,806 L275.5,786" fill="none" stroke="#000" stroke-width="5" stroke-linejoin="miter" stroke-linecap="round"/>
<line x1="306.5" y1="749.0" x2="306.5" y2="808.0" stroke="#000" stroke-width="4.3" stroke-linecap="butt"/>
<path d="M295.0,790 L306.5,810 L318.0,790" fill="none" stroke="#000" stroke-width="5" stroke-linejoin="miter" stroke-linecap="round"/>
<line x1="356.0" y1="745.0" x2="356.0" y2="804.0" stroke="#000" stroke-width="4.3" stroke-linecap="butt"/>
<path d="M344.5,786 L356,806 L367.5,786" fill="none" stroke="#000" stroke-width="5" stroke-linejoin="miter" stroke-linecap="round"/>
<line x1="392.0" y1="745.0" x2="392.0" y2="804.0" stroke="#000" stroke-width="4.3" stroke-linecap="butt"/>
<path d="M380.5,786 L392,806 L403.5,786" fill="none" stroke="#000" stroke-width="5" stroke-linejoin="miter" stroke-linecap="round"/>
<line x1="442.6" y1="743.0" x2="442.6" y2="802.0" stroke="#000" stroke-width="4.3" stroke-linecap="butt"/>
<path d="M431.1,784 L442.6,804 L454.1,784" fill="none" stroke="#000" stroke-width="5" stroke-linejoin="miter" stroke-linecap="round"/>
<line x1="495.0" y1="855.0" x2="677.0" y2="855.0" stroke="#000" stroke-width="4" stroke-linecap="butt"/>
<line x1="677.0" y1="812.0" x2="677.0" y2="910.0" stroke="#000" stroke-width="4.5" stroke-linecap="butt"/>
<line x1="324.0" y1="909.5" x2="176.3" y2="1089.5" stroke="#000" stroke-width="4.2" stroke-linecap="butt"/>
<path d="M181.7,1065.5 L175.0,1091.0 L198.7,1079.4" fill="none" stroke="#000" stroke-width="5.5" stroke-linecap="round" stroke-linejoin="miter" stroke-miterlimit="10"/>
<line x1="398.0" y1="909.5" x2="551.0" y2="1047.0" stroke="#000" stroke-width="4" stroke-linecap="butt"/>
<line x1="569.0" y1="1011.0" x2="544.4" y2="1081.7" stroke="#000" stroke-width="4.5" stroke-linecap="butt"/>
<path d="M213,1224 C235,1200 300,1188 330,1190 C350,1193 362,1210 370,1232" fill="none" stroke="#000" stroke-width="2.2" stroke-linecap="butt"/>
<path d="M361.5,1230.2 L374.0,1244.0 L375.7,1225.5 Z" fill="#000"/>
<line x1="1301.0" y1="841.0" x2="1155.0" y2="841.0" stroke="#000" stroke-width="4.2" stroke-linecap="butt"/>
<path d="M1175.0,830.0 L1153.0,841.0 L1175.0,852.0" fill="none" stroke="#000" stroke-width="5.5" stroke-linecap="round" stroke-linejoin="miter" stroke-miterlimit="10"/>
<line x1="1385.0" y1="948.0" x2="1154.9" y2="875.6" stroke="#000" stroke-width="4.2" stroke-linecap="butt"/>
<path d="M1177.3,871.1 L1153.0,875.0 L1170.7,892.1" fill="none" stroke="#000" stroke-width="5.5" stroke-linecap="round" stroke-linejoin="miter" stroke-miterlimit="10"/>
<line x1="1318.0" y1="875.0" x2="1204.4" y2="988.6" stroke="#000" stroke-width="4.2" stroke-linecap="butt"/>
<path d="M1210.8,966.7 L1203.0,990.0 L1226.3,982.2" fill="none" stroke="#000" stroke-width="5.5" stroke-linecap="round" stroke-linejoin="miter" stroke-miterlimit="10"/>
<line x1="1403.0" y1="975.0" x2="1289.9" y2="1008.4" stroke="#000" stroke-width="1.8" stroke-linecap="butt"/>
<path d="M1306.0,992.2 L1288.0,1009.0 L1312.2,1013.3" fill="none" stroke="#000" stroke-width="5" stroke-linecap="round" stroke-linejoin="miter" stroke-miterlimit="10"/>
<line x1="1588.0" y1="1026.0" x2="1491.8" y2="978.9" stroke="#000" stroke-width="4.2" stroke-linecap="butt"/>
<path d="M1514.6,977.8 L1490.0,978.0 L1504.9,997.6" fill="none" stroke="#000" stroke-width="5.5" stroke-linecap="round" stroke-linejoin="miter" stroke-miterlimit="10"/>
<line x1="1740.0" y1="1161.0" x2="1659.4" y2="1080.4" stroke="#000" stroke-width="4.2" stroke-linecap="butt"/>
<path d="M1681.3,1086.8 L1658.0,1079.0 L1665.8,1102.3" fill="none" stroke="#000" stroke-width="5.5" stroke-linecap="round" stroke-linejoin="miter" stroke-miterlimit="10"/>
<line x1="1686.0" y1="1183.0" x2="1256.0" y2="1112.3" stroke="#000" stroke-width="1.8" stroke-linecap="butt"/>
<path d="M1277.5,1104.7 L1254.0,1112.0 L1273.9,1126.4" fill="none" stroke="#000" stroke-width="5" stroke-linecap="round" stroke-linejoin="miter" stroke-miterlimit="10"/>
<line x1="1858.0" y1="1381.0" x2="1806.7" y2="1250.9" stroke="#000" stroke-width="4.2" stroke-linecap="butt"/>
<path d="M1824.3,1265.4 L1806.0,1249.0 L1803.8,1273.5" fill="none" stroke="#000" stroke-width="5.5" stroke-linecap="round" stroke-linejoin="miter" stroke-miterlimit="10"/>
<line x1="1560.0" y1="454.0" x2="1379.0" y2="453.0" stroke="#000" stroke-width="2.2" stroke-linecap="butt"/>
<path d="M1399.1,442.1 L1377.0,453.0 L1398.9,464.1" fill="none" stroke="#000" stroke-width="5.5" stroke-linecap="round" stroke-linejoin="miter" stroke-miterlimit="10"/>
<line x1="1323.0" y1="592.0" x2="1323.0" y2="636.0" stroke="#000" stroke-width="4.3" stroke-linecap="butt"/>
<path d="M1311.5,618 L1323,638 L1334.5,618" fill="none" stroke="#000" stroke-width="5" stroke-linejoin="miter" stroke-linecap="round"/>
<line x1="1374.0" y1="592.0" x2="1374.0" y2="636.0" stroke="#000" stroke-width="4.3" stroke-linecap="butt"/>
<path d="M1362.5,618 L1374,638 L1385.5,618" fill="none" stroke="#000" stroke-width="5" stroke-linejoin="miter" stroke-linecap="round"/>
<line x1="1420.0" y1="592.0" x2="1420.0" y2="636.0" stroke="#000" stroke-width="4.3" stroke-linecap="butt"/>
<path d="M1408.5,618 L1420,638 L1431.5,618" fill="none" stroke="#000" stroke-width="5" stroke-linejoin="miter" stroke-linecap="round"/>
<line x1="1466.0" y1="592.0" x2="1466.0" y2="636.0" stroke="#000" stroke-width="4.3" stroke-linecap="butt"/>
<path d="M1454.5,618 L1466,638 L1477.5,618" fill="none" stroke="#000" stroke-width="5" stroke-linejoin="miter" stroke-linecap="round"/>
<line x1="1516.0" y1="592.0" x2="1516.0" y2="636.0" stroke="#000" stroke-width="4.3" stroke-linecap="butt"/>
<path d="M1504.5,618 L1516,638 L1527.5,618" fill="none" stroke="#000" stroke-width="5" stroke-linejoin="miter" stroke-linecap="round"/>
<line x1="1563.0" y1="592.0" x2="1563.0" y2="636.0" stroke="#000" stroke-width="4.3" stroke-linecap="butt"/>
<path d="M1551.5,618 L1563,638 L1574.5,618" fill="none" stroke="#000" stroke-width="5" stroke-linejoin="miter" stroke-linecap="round"/>
<line x1="1344.0" y1="744.0" x2="1344.0" y2="789.0" stroke="#000" stroke-width="4.3" stroke-linecap="butt"/>
<path d="M1332.5,771 L1344,791 L1355.5,771" fill="none" stroke="#000" stroke-width="5" stroke-linejoin="miter" stroke-linecap="round"/>
<line x1="1395.0" y1="744.0" x2="1395.0" y2="789.0" stroke="#000" stroke-width="4.3" stroke-linecap="butt"/>
<path d="M1383.5,771 L1395,791 L1406.5,771" fill="none" stroke="#000" stroke-width="5" stroke-linejoin="miter" stroke-linecap="round"/>
<line x1="1441.0" y1="744.0" x2="1441.0" y2="789.0" stroke="#000" stroke-width="4.3" stroke-linecap="butt"/>
<path d="M1429.5,771 L1441,791 L1452.5,771" fill="none" stroke="#000" stroke-width="5" stroke-linejoin="miter" stroke-linecap="round"/>
<line x1="1486.0" y1="744.0" x2="1486.0" y2="789.0" stroke="#000" stroke-width="4.3" stroke-linecap="butt"/>
<path d="M1474.5,771 L1486,791 L1497.5,771" fill="none" stroke="#000" stroke-width="5" stroke-linejoin="miter" stroke-linecap="round"/>
<line x1="1538.0" y1="744.0" x2="1538.0" y2="789.0" stroke="#000" stroke-width="4.3" stroke-linecap="butt"/>
<path d="M1526.5,771 L1538,791 L1549.5,771" fill="none" stroke="#000" stroke-width="5" stroke-linejoin="miter" stroke-linecap="round"/>
<line x1="1585.0" y1="744.0" x2="1585.0" y2="789.0" stroke="#000" stroke-width="4.3" stroke-linecap="butt"/>
<path d="M1573.5,771 L1585,791 L1596.5,771" fill="none" stroke="#000" stroke-width="5" stroke-linejoin="miter" stroke-linecap="round"/>
<path d="M1707,838 C1760,822 1808,790 1810,740 C1811,700 1806,670 1805,650" fill="none" stroke="#000" stroke-width="2.3" stroke-linecap="butt"/>
<path d="M1812.5,652.0 L1805.0,635.0 L1797.5,652.0 Z" fill="#000"/>
<path d="M1700,854 C1750,840 1790,860 1787,900 C1782,950 1740,1000 1688,1018" fill="none" stroke="#000" stroke-width="2.3" stroke-linecap="butt"/>
<path d="M1685.2,1011.0 L1673.0,1025.0 L1691.6,1024.6 Z" fill="#000"/>
<path d="M1794,562 C1802,520 1800,490 1790,482 C1770,472 1720,472 1690,474" fill="none" stroke="#000" stroke-width="2.3" stroke-linecap="butt"/>
<path d="M1691.0,467.5 L1674.0,475.0 L1691.0,482.5 Z" fill="#000"/>
<path d="M991,1173 C1015,1188 1045,1210 1065,1229 C1085,1246 1110,1254 1150,1255 C1300,1254 1500,1236 1666,1213" fill="none" stroke="#000" stroke-width="3.8" stroke-linecap="butt"/>
<path d="M1665.1,1221.6 L1682.0,1211.6 L1663.2,1205.8 Z" fill="#000"/>
<path d="M937,1174 C940,1200 950,1235 979,1254" fill="none" stroke="#4a1a1a" stroke-width="2.2" stroke-linecap="butt"/>
<path d="M979,1263 L998,1263 L988,1248 Z" fill="#4a1a1a"/>
<path d="M1087,1331 C1105,1345 1135,1344 1168,1339" fill="none" stroke="#000" stroke-width="2.2" stroke-linecap="butt"/>
<path d="M1166.2,1346.8 L1182.0,1337.0 L1164.1,1332.0 Z" fill="#000"/>
<line x1="1419.0" y1="1332.0" x2="1484.0" y2="1332.0" stroke="#000" stroke-width="1.8" stroke-linecap="butt"/>
<path d="M1464.0,1343.0 L1486.0,1332.0 L1464.0,1321.0" fill="none" stroke="#000" stroke-width="5" stroke-linecap="round" stroke-linejoin="miter" stroke-miterlimit="10"/>
<line x1="1292.7" y1="341.0" x2="1296.2" y2="369.0" stroke="#000" stroke-width="1.6" stroke-linecap="butt"/>
<line x1="1329.0" y1="369.0" x2="1342.1" y2="353.3" stroke="#000" stroke-width="3.5" stroke-linecap="butt"/>
<path d="M1345.7,361.5 L1352.4,341.0 L1333.4,351.2 Z" fill="#000"/>
<line x1="1287.0" y1="461.0" x2="1262.9" y2="494.6" stroke="#000" stroke-width="2.2" stroke-linecap="butt"/>
<path d="M1258.6,486.9 L1254.0,507.0 L1271.6,496.2 Z" fill="#000"/>
<line x1="1309.4" y1="462.0" x2="1333.6" y2="515.6" stroke="#000" stroke-width="3.5" stroke-linecap="butt"/>
<line x1="1601.0" y1="328.5" x2="1606.7" y2="380.5" stroke="#000" stroke-width="1.6" stroke-linecap="butt"/>
<line x1="1638.0" y1="380.5" x2="1653.1" y2="358.0" stroke="#000" stroke-width="3.5" stroke-linecap="butt"/>
<path d="M1657.5,365.8 L1662.0,344.7 L1644.2,356.9 Z" fill="#000"/>
<line x1="1588.0" y1="470.6" x2="1548.3" y2="508.5" stroke="#000" stroke-width="2.2" stroke-linecap="butt"/>
<path d="M1545.5,500.1 L1537.3,519.0 L1556.6,511.7 Z" fill="#000"/>
<line x1="1635.6" y1="473.0" x2="1657.5" y2="523.8" stroke="#000" stroke-width="3.5" stroke-linecap="butt"/>
<line x1="105.7" y1="1258.0" x2="112.0" y2="1331.0" stroke="#000" stroke-width="1.8" stroke-linecap="butt"/>
<path d="M145,1328 C150,1305 158,1290 165,1280" fill="none" stroke="#000" stroke-width="2.4" stroke-linecap="butt"/>
<path d="M170.5,1286.0 L171.4,1267.4 L157.1,1279.3 Z" fill="#000"/>
<line x1="93.0" y1="1405.6" x2="65.6" y2="1439.2" stroke="#000" stroke-width="2.2" stroke-linecap="butt"/>
<path d="M61.8,1431.2 L56.0,1451.0 L74.2,1441.3 Z" fill="#000"/>
<line x1="158.9" y1="1418.0" x2="175.9" y2="1461.0" stroke="#000" stroke-width="1.8" stroke-linecap="butt"/>
<line x1="377.0" y1="1276.5" x2="382.0" y2="1332.0" stroke="#000" stroke-width="1.8" stroke-linecap="butt"/>
<path d="M430.7,1331 C440,1305 455,1285 472,1265" fill="none" stroke="#000" stroke-width="2.4" stroke-linecap="butt"/>
<path d="M477.5,1270.5 L482.8,1252.7 L466.1,1260.8 Z" fill="#000"/>
<line x1="369.6" y1="1400.0" x2="335.8" y2="1436.4" stroke="#000" stroke-width="2.2" stroke-linecap="butt"/>
<path d="M332.5,1428.1 L325.4,1447.5 L344.2,1439.0 Z" fill="#000"/>
<line x1="447.7" y1="1412.4" x2="461.3" y2="1438.4" stroke="#000" stroke-width="1.8" stroke-linecap="butt"/>
<path d="M1261,378 L1261,452 A44.5,9 0 0 0 1350,452 L1350,378 Z" fill="#00b8ea" stroke="#3a70b0" stroke-width="3.2"/>
<ellipse cx="1305.5" cy="378" rx="44.5" ry="9" fill="#d9d3ea" stroke="#3a70b0" stroke-width="3.2"/>
<path d="M1577,390 L1577,463 A44.5,9 0 0 0 1666,463 L1666,390 Z" fill="#804da0" stroke="#3a76b6" stroke-width="3.2"/>
<ellipse cx="1621.5" cy="390" rx="44.5" ry="9" fill="#7fd3f1" stroke="#3a76b6" stroke-width="3.2"/>
<path d="M95,1340 L95,1410 A40.5,10 0 0 0 176,1410 L176,1340 Z" fill="#f6e71a" stroke="#d42b2b" stroke-width="5.5"/>
<ellipse cx="135.5" cy="1340" rx="40.5" ry="10" fill="#7fd0f0" stroke="#3a6fa8" stroke-width="2.5"/>
<path d="M95,1340 A40.5,10 0 0 0 176,1340" fill="none" stroke="#d42b2b" stroke-width="5.5"/>
<path d="M370,1340 L370,1410 A40.0,10 0 0 0 450,1410 L450,1340 Z" fill="#00b8ea" stroke="#d42b2b" stroke-width="5.5"/>
<ellipse cx="410.0" cy="1340" rx="40.0" ry="10" fill="#dcd6ea" stroke="#3a6fa8" stroke-width="2.5"/>
<path d="M370,1340 A40.0,10 0 0 0 450,1340" fill="none" stroke="#d42b2b" stroke-width="5.5"/>
<path d="M649,1098.5 L649,1184.5 A43.0,7.5 0 0 0 735,1184.5 L735,1098.5 Z" fill="#e8822a" stroke="#000" stroke-width="5.5"/>
<ellipse cx="692.0" cy="1098.5" rx="43.0" ry="7.5" fill="#f3b27a" stroke="#000" stroke-width="5.5"/>
<path d="M1156,1079 L1156,1155 A42.5,21 0 0 0 1241,1155 L1241,1079 Z" fill="#e8822a" stroke="#000" stroke-width="5"/>
<ellipse cx="1198.5" cy="1079" rx="42.5" ry="21" fill="#f0b070" stroke="#000" stroke-width="5"/>
<text x="193" y="510" style="font-size:46.5px;">Glucose</text>
<text x="513" y="631" style="font-size:46.5px;">ATP</text>
<text x="178" y="717" style="font-size:46.5px;">Lactate</text>
<text x="395" y="710" style="font-size:46.5px;">H+</text>
<text x="210" y="875" style="font-size:46.5px;">Lowered pH</text>
<text x="840" y="724" style="font-size:46.5px;">Myofibril</text>
<text x="810" y="778" style="font-size:46.5px;">contracture</text>
<text x="612" y="1068" style="font-size:46.5px;">mPTP</text>
<text x="602" y="1241" style="font-size:46.5px;">closed</text>
<text x="161" y="1270" style="font-size:46.5px;">Na+</text>
<text x="10" y="1500" style="font-size:46.5px;">H+</text>
<text x="268" y="1500" style="font-size:46.5px;">2Na+</text>
<text x="1327" y="327" style="font-size:46.5px;">2Na+</text>
<text x="1662" y="344" style="font-size:46.5px;">H+</text>
<text x="1481" y="562" style="font-size:46.5px;">Na+</text>
<text x="1728" y="615" style="font-size:46.5px;">calpain</text>
<text x="1239" y="708" style="font-size:46.5px;">Wash-out of lactate</text>
<text x="1310" y="862" style="font-size:46.5px;">Physiological pH</text>
<text x="1593" y="1067" style="font-size:46.5px;">SR</text>
<text x="1143" y="1046" style="font-size:46.5px;">mPTP</text>
<text x="1154" y="1219" style="font-size:46.5px;">open</text>
<text x="1710" y="1223" style="font-size:46.5px;">ROS</text>
<text x="968" y="1312" style="font-size:46.5px;">Cyt. C</text>
<text x="1196" y="1338" style="font-size:46.5px;">Caspases</text>
<text x="1502" y="1338" style="font-size:46.5px;">apoptosis</text>
<text x="1781" y="1441" style="font-size:46.5px;">Neutrophil</text>
<text x="469" y="1245">Ca<tspan dy="-16" style="font-size:30px">2+</tspan></text>
<text x="1210" y="550.5">Ca<tspan dy="-16" style="font-size:30px">2+</tspan></text>
<text x="1408" y="966">Ca<tspan dy="-13.5" style="font-size:30px">2+</tspan></text>
</svg>
</body></html>
